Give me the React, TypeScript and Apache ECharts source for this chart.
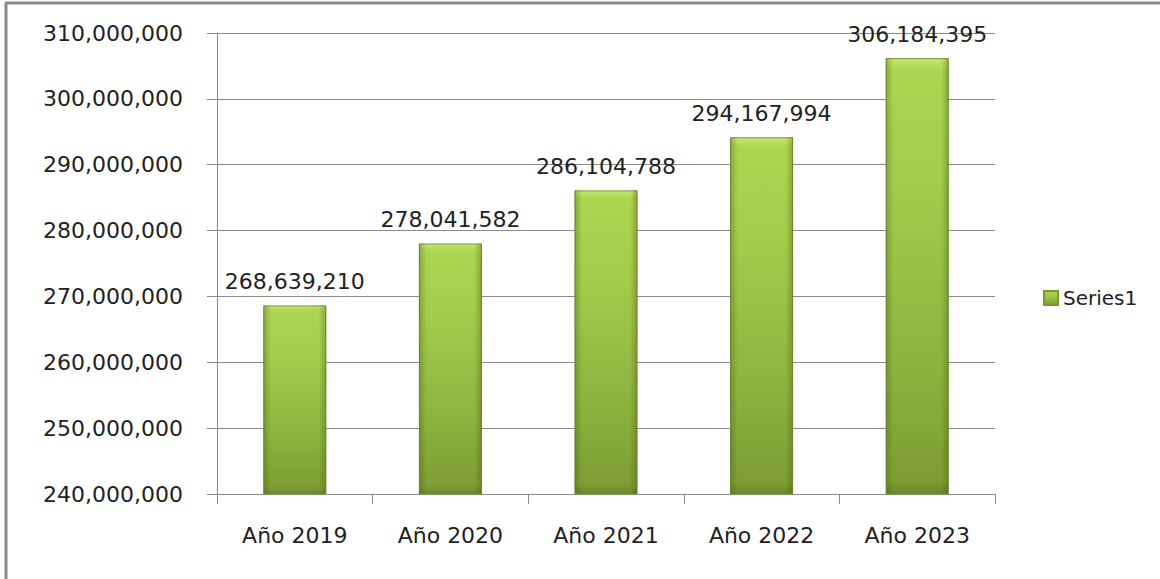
import React, { useEffect, useRef } from "react";
import * as echarts from "echarts";

const categories = ["Año 2019", "Año 2020", "Año 2021", "Año 2022", "Año 2023"];
const seriesName = "Series1";
const values = [268639210, 278041582, 286104788, 294167994, 306184395];
const yMin = 240000000;
const yMax = 310000000;
const yStep = 10000000;

const fmt = (v: number) => Math.round(v).toLocaleString("en-US");
const FONT = "DejaVu Sans";

export default function App() {
  const ref = useRef<HTMLDivElement>(null);
  useEffect(() => {
    if (!ref.current) return;
    const chart = echarts.init(ref.current, undefined, { renderer: "svg" });
    const barFill = new echarts.graphic.LinearGradient(0, 0, 0, 1, [
      { offset: 0, color: "#c4e672" },
      { offset: 0.025, color: "#acd552" },
      { offset: 0.3, color: "#a2cb4b" },
      { offset: 0.7, color: "#8db33e" },
      { offset: 0.97, color: "#7c9d34" },
      { offset: 1, color: "#6a872b" },
    ]);
    const edgeShade = new echarts.graphic.LinearGradient(0, 0, 1, 0, [
      { offset: 0, color: "rgba(60,85,10,0.35)" },
      { offset: 0.12, color: "rgba(60,85,10,0.0)" },
      { offset: 0.88, color: "rgba(60,85,10,0.0)" },
      { offset: 1, color: "rgba(60,85,10,0.35)" },
    ]);
    chart.setOption({
      animation: false,
      backgroundColor: "#ffffff",
      graphic: [
        { type: "line", shape: { x1: 6, y1: 3, x2: 6, y2: 579 }, style: { stroke: "#8c8c8c", lineWidth: 3 } },
        { type: "line", shape: { x1: 5, y1: 3, x2: 1160, y2: 3 }, style: { stroke: "#8c8c8c", lineWidth: 3 } },
      ],
      grid: { left: 217, right: 165, top: 33, bottom: 85, containLabel: false },
      legend: {
        data: [seriesName],
        left: 1038,
        top: 283,
        icon: "rect",
        itemWidth: 14,
        itemHeight: 14,
        itemGap: 8,
        textStyle: { fontFamily: FONT, fontSize: 20, color: "#222" },
      },
      xAxis: {
        type: "category",
        data: categories,
        axisLine: { lineStyle: { color: "#8c8c8c", width: 1 } },
        axisTick: { show: true, length: 10, alignWithLabel: false, lineStyle: { color: "#8c8c8c" } },
        axisLabel: { fontFamily: FONT, fontSize: 22, color: "#222", margin: 30 },
      },
      yAxis: {
        type: "value",
        min: yMin,
        max: yMax,
        interval: yStep,
        axisLine: { show: true, lineStyle: { color: "#8c8c8c", width: 1 } },
        axisTick: { show: true, length: 10, lineStyle: { color: "#8c8c8c" } },
        splitLine: { show: true, lineStyle: { color: "#8c8c8c", width: 1 } },
        axisLabel: { fontFamily: FONT, fontSize: 22, color: "#222", margin: 34, formatter: (v: number) => fmt(v) },
      },
      series: [
        {
          name: seriesName,
          type: "bar",
          data: values,
          barWidth: 63,
          itemStyle: { color: barFill, borderColor: "#789a33", borderWidth: 1 },
          label: {
            show: true,
            position: "top",
            distance: 13,
            fontFamily: FONT,
            fontSize: 22,
            color: "#222",
            formatter: (p: any) => fmt(p.value),
          },
        },
        {
          name: "shade",
          type: "bar",
          data: values,
          barWidth: 63,
          barGap: "-100%",
          silent: true,
          itemStyle: { color: edgeShade },
          label: { show: false },
          tooltip: { show: false },
        },
      ],
    });
    return () => chart.dispose();
  }, []);
  return (
    <div
      ref={ref}
      style={{ position: "absolute", left: 0, top: 0, width: 1160, height: 579 }}
    />
  );
}
